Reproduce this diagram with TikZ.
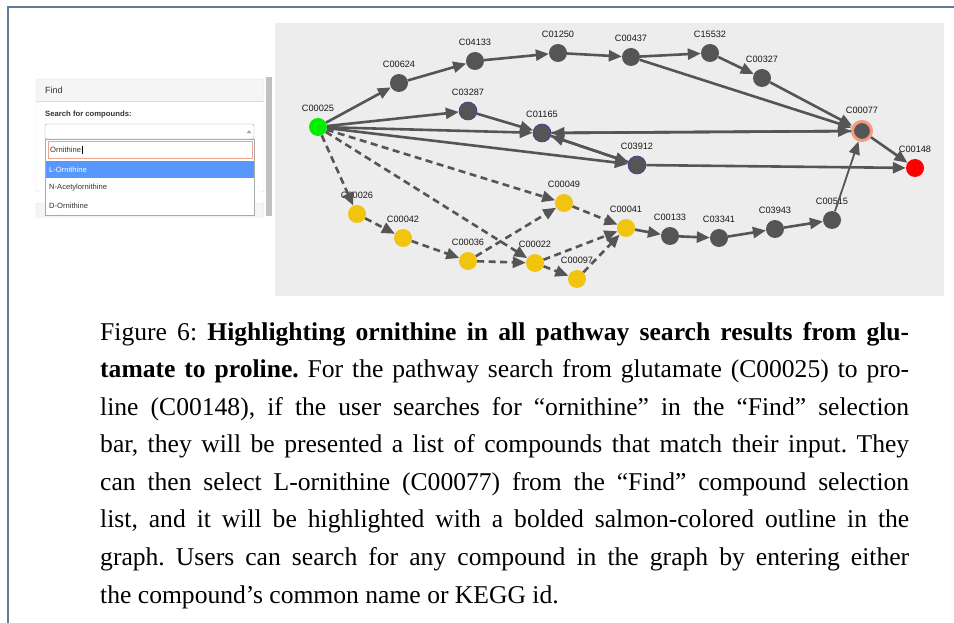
\documentclass[tikz,border=0pt]{standalone}
\usepackage{fontspec}
\setmainfont{Liberation Serif}
\setsansfont{Liberation Sans}
\usetikzlibrary{arrows.meta}

\definecolor{framecol}{HTML}{5F7A96}
\definecolor{graphbg}{HTML}{EDEDED}
\definecolor{nodegray}{HTML}{555555}
\definecolor{edgegray}{HTML}{555555}
\definecolor{startgreen}{HTML}{00EE00}
\definecolor{endred}{HTML}{FF0000}
\definecolor{sideyellow}{HTML}{F1C40F}
\definecolor{salmonring}{HTML}{F59A7E}
\definecolor{searchborder}{HTML}{E9A48B}
\definecolor{blueedge}{HTML}{3A3AA8}
\definecolor{panelborder}{HTML}{DDDDDD}
\definecolor{headbg}{HTML}{F5F5F5}
\definecolor{selborder}{HTML}{AAAAAA}
\definecolor{hlblue}{HTML}{5897FB}
\definecolor{paneltext}{HTML}{333333}
\definecolor{scrollgray}{HTML}{C1C1C1}

\begin{document}
\frenchspacing
\begin{tikzpicture}[x=1pt,y=-1pt,
  cpdlabel/.style={font=\sffamily\fontsize{9.2}{10}\selectfont, text=black!90,
    inner sep=1pt, text depth=0pt, label distance=5pt},
  cpd/.style={circle, inner sep=0pt, minimum size=18pt, fill=nodegray,
    label={[cpdlabel]90:#1}},
  side/.style={fill=sideyellow},
  picked/.style={draw=blueedge, line width=0.6pt},
  flow/.style={draw=edgegray, line width=2.6pt,
    -{Triangle[length=13pt,width=11pt]}},
  flowdash/.style={flow, dash pattern=on 7pt off 4.5pt},
  paneltxt/.style={font=\sffamily\fontsize{7.6}{9}\selectfont, text=paneltext,
    inner sep=0pt, anchor=west},
  capline/.style={font=\fontsize{25.6}{37.5}\selectfont, inner sep=0pt, anchor=base west}
]
\useasboundingbox (0,0) rectangle (954,623);

% page frame
\draw[framecol, line width=2pt] (7.5,623) -- (7.5,7.5) -- (954,7.5);

% ---------- Find panel ----------
\fill[scrollgray] (266,77) rectangle (272,216);
\begin{scope}
  \clip (30,70) rectangle (264.5,218);
  \draw[panelborder, fill=headbg, rounded corners=2pt] (36,203) rectangle (264,240);
\end{scope}
\fill[white, rounded corners=2pt] (36,79) rectangle (264,192);
\fill[headbg, rounded corners=2pt] (36,79) rectangle (264,101);
\draw[panelborder] (36,101) -- (264,101);
\draw[panelborder, rounded corners=2pt] (36,79) rectangle (264,192);
\node[paneltxt, font=\sffamily\fontsize{9}{10}\selectfont] (findhead) at (45,90) {Find};
\node[paneltxt, font=\sffamily\bfseries\fontsize{7.7}{9}\selectfont] (searchlbl) at (45,115) {Search for compounds:};

\draw[selborder, fill=white, rounded corners=1.5pt] (45,124) rectangle (254,139);
\fill[gray!75] (246.6,133.2) -- (251.4,133.2) -- (249,130.2) -- cycle;
\draw[selborder, fill=white] (45,139) rectangle (254,215);
\draw[searchborder, fill=white, line width=0.8pt] (48,141.5) rectangle (252,158);
\node[paneltxt] (query) at (50,150) {Ornithine};
\draw[black, line width=0.5pt] ([xshift=0.6pt,yshift=4pt]query.east) -- ([xshift=0.6pt,yshift=-4pt]query.east);
\fill[hlblue] (45.5,161) rectangle (253.5,178);
\node[paneltxt, text=white] (opt1) at (49,169.5) {L-Ornithine};
\node[paneltxt] (opt2) at (49,188) {N-Acetylornithine};
\node[paneltxt] (opt3) at (49,206) {D-Ornithine};

% ---------- pathway graph ----------
\fill[graphbg] (275,23) rectangle (944,296);

% main route
\node[cpd=C00025, fill=startgreen] (c00025) at (318,127) {};
\node[cpd=C00624] (c00624) at (399,83) {};
\node[cpd=C04133] (c04133) at (475,61) {};
\node[cpd=C01250] (c01250) at (558,53) {};
\node[cpd=C00437] (c00437) at (631,57) {};
\node[cpd=C15532] (c15532) at (710,53) {};
\node[cpd=C00327] (c00327) at (762,78) {};
\node[cpd=C03287, picked] (c03287) at (468,111) {};
\node[cpd=C01165, picked] (c01165) at (542,133) {};
\node[cpd=C03912, picked] (c03912) at (637,165) {};
\node[cpd=C00077, draw=salmonring, line width=3pt, minimum size=19pt] (c00077) at (862,131) {};
\node[cpd=C00148, fill=endred] (c00148) at (915,168) {};

% side branch (dashed)
\node[cpd=C00026, side] (c00026) at (357,214) {};
\node[cpd=C00042, side] (c00042) at (403,238) {};
\node[cpd=C00036, side] (c00036) at (468,261) {};
\node[cpd=C00049, side] (c00049) at (564,203) {};
\node[cpd=C00022, side] (c00022) at (535,263) {};
\node[cpd=C00097, side] (c00097) at (577,279) {};
\node[cpd=C00041, side] (c00041) at (626,228) {};

% lower route
\node[cpd=C00133] (c00133) at (670,236) {};
\node[cpd=C03341] (c03341) at (719,238) {};
\node[cpd=C03943] (c03943) at (775,229) {};
\node[cpd=C00515] (c00515) at (832,220) {};

% solid reactions
\draw[flow] (c00025) -- (c00624);
\draw[flow] (c00624) -- (c04133);
\draw[flow] (c04133) -- (c01250);
\draw[flow] (c01250) -- (c00437);
\draw[flow] (c00437) -- (c15532);
\draw[flow] (c15532) -- (c00327);
\draw[flow] (c00327) -- (c00077);
\draw[flow] (c00437) -- (c00077);
\draw[flow] (c00025) -- (c03287);
\draw[flow] (c03287) -- (c01165);
\draw[flow] (c00025) -- (c01165);
\draw[flow] (c00025) -- (c03912);
\draw[flow] (c01165) -- (c00077);
\draw[flow] (c00077) -- (c01165);
\draw[flow] (c01165) -- (c03912);
\draw[flow] (c03912) -- (c01165);
\draw[flow] (c03912) -- (c00148);
\draw[flow] (c00077) -- (c00148);
\draw[flow] (c00041) -- (c00133);
\draw[flow] (c00133) -- (c03341);
\draw[flow] (c03341) -- (c03943);
\draw[flow] (c03943) -- (c00515);
\draw[flow, line width=1.8pt] (c00515) -- (c00077);

% dashed reactions
\draw[flowdash] (c00025) -- (c00026);
\draw[flowdash] (c00025) -- (c00022);
\draw[flowdash] (c00025) -- (c00049);
\draw[flowdash] (c00026) -- (c00042);
\draw[flowdash] (c00042) -- (c00036);
\draw[flowdash] (c00036) -- (c00049);
\draw[flowdash] (c00036) -- (c00022);
\draw[flowdash] (c00049) -- (c00041);
\draw[flowdash] (c00022) -- (c00041);
\draw[flowdash] (c00022) -- (c00097);
\draw[flowdash] (c00097) -- (c00041);

% ---------- caption ----------
\foreach \t [count=\i] in {
  {Figure 6: \textbf{Highlighting ornithine in all pathway search results from glu-}},
  {\textbf{tamate to proline.} For the pathway search from glutamate (C00025) to pro-},
  {line (C00148), if the user searches for “ornithine” in the “Find” selection},
  {bar, they will be presented a list of compounds that match their input. They},
  {can then select L-ornithine (C00077) from the “Find” compound selection},
  {list, and it will be highlighted with a bolded salmon-colored outline in the},
  {graph. Users can search for any compound in the graph by entering either}} {
  \pgfmathsetmacro\yy{340+37.57*(\i-1)}
  \node[capline] (cap-\i) at (100,\yy) {\makebox[809pt][s]{\t}};
}
\node[capline] (cap-8) at (100,603) {the compound’s common name or KEGG id.};
\end{tikzpicture}
\end{document}
